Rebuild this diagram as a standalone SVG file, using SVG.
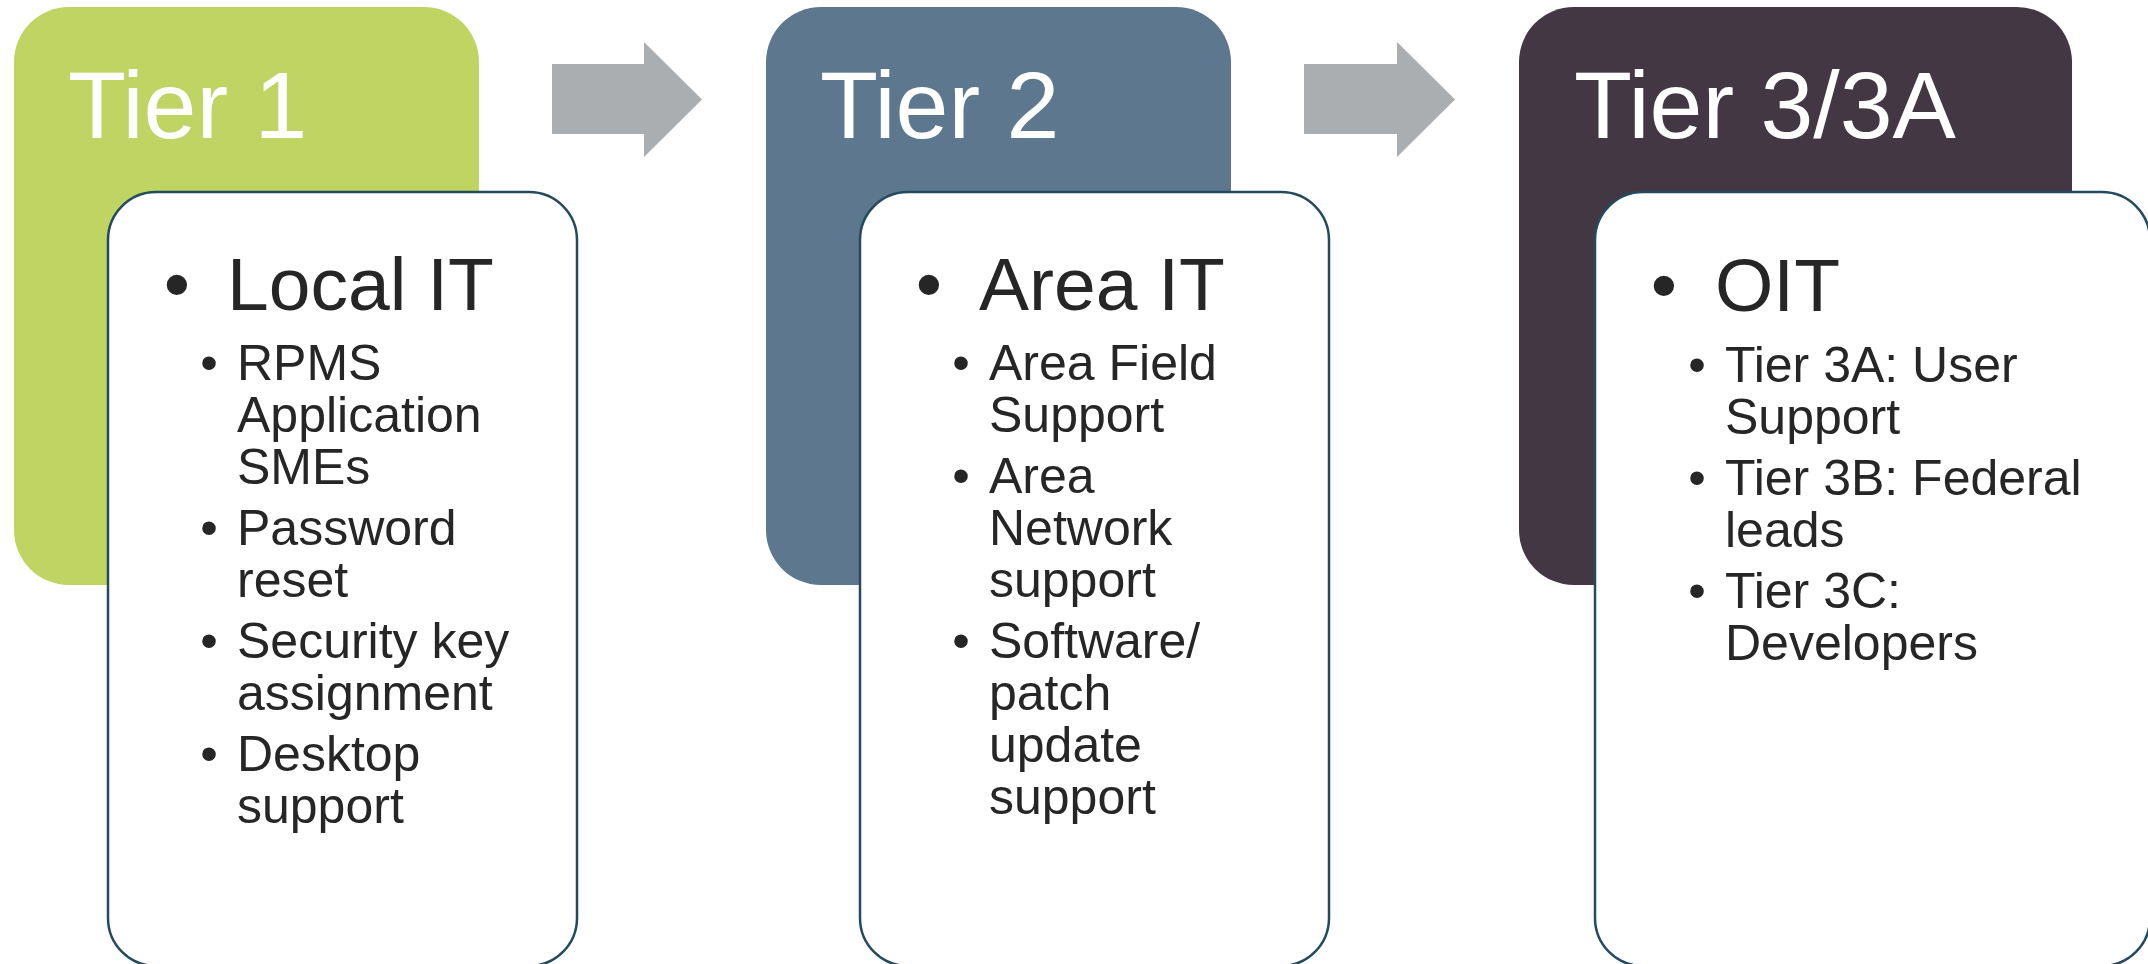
<svg xmlns="http://www.w3.org/2000/svg" width="2148" height="964" viewBox="0 0 2148 964">
  <style>
    text { font-family: "Liberation Sans", Arial, sans-serif; }
    .title { fill: #ffffff; font-size: 95px; }
    .head { fill: #262626; font-size: 75px; }
    .sub { fill: #262626; font-size: 50px; }
    .card { fill: #ffffff; stroke: #234a5f; stroke-width: 2.5; }
    .arrow { fill: #abaeb1; }
  </style>
  <rect width="2148" height="964" fill="#ffffff"/>

  <g id="tier1">
    <rect x="14" y="7" width="465" height="578" rx="55" ry="55" fill="#bfd463"/>
    <text class="title" x="68" y="138">Tier 1</text>
    <rect class="card" x="108" y="192" width="469" height="774" rx="48" ry="48"/>
    <text class="head" x="177" y="310" text-anchor="middle">•</text>
    <text class="head" x="227" y="310">Local IT</text>
    <g class="sub">
      <text x="209" y="380" text-anchor="middle">•</text>
      <text x="237" y="380">RPMS</text>
      <text x="237" y="432">Application</text>
      <text x="237" y="484">SMEs</text>
      <text x="209" y="545" text-anchor="middle">•</text>
      <text x="237" y="545">Password</text>
      <text x="237" y="597">reset</text>
      <text x="209" y="658" text-anchor="middle">•</text>
      <text x="237" y="658">Security key</text>
      <text x="237" y="710">assignment</text>
      <text x="209" y="771" text-anchor="middle">•</text>
      <text x="237" y="771">Desktop</text>
      <text x="237" y="823">support</text>
    </g>
  </g>

  <g id="tier2">
    <rect x="766" y="7" width="465" height="578" rx="55" ry="55" fill="#5d778e"/>
    <text class="title" x="820" y="138">Tier 2</text>
    <rect class="card" x="860" y="192" width="469" height="774" rx="48" ry="48"/>
    <text class="head" x="929" y="310" text-anchor="middle">•</text>
    <text class="head" x="979" y="310">Area IT</text>
    <g class="sub">
      <text x="961" y="380" text-anchor="middle">•</text>
      <text x="989" y="380">Area Field</text>
      <text x="989" y="432">Support</text>
      <text x="961" y="493" text-anchor="middle">•</text>
      <text x="989" y="493">Area</text>
      <text x="989" y="545">Network</text>
      <text x="989" y="597">support</text>
      <text x="961" y="658" text-anchor="middle">•</text>
      <text x="989" y="658">Software/</text>
      <text x="989" y="710">patch</text>
      <text x="989" y="762">update</text>
      <text x="989" y="814">support</text>
    </g>
  </g>

  <g id="tier3">
    <rect x="1519" y="7" width="553" height="578" rx="55" ry="55" fill="#433744"/>
    <text class="title" x="1574" y="138">Tier 3/3A</text>
    <rect class="card" x="1595" y="192" width="555" height="774" rx="48" ry="48"/>
    <text class="head" x="1664" y="311" text-anchor="middle">•</text>
    <text class="head" x="1715" y="311">OIT</text>
    <g class="sub">
      <text x="1697" y="382" text-anchor="middle">•</text>
      <text x="1725" y="382">Tier 3A: User</text>
      <text x="1725" y="434">Support</text>
      <text x="1697" y="495" text-anchor="middle">•</text>
      <text x="1725" y="495">Tier 3B: Federal</text>
      <text x="1725" y="547">leads</text>
      <text x="1697" y="608" text-anchor="middle">•</text>
      <text x="1725" y="608">Tier 3C:</text>
      <text x="1725" y="660">Developers</text>
    </g>
  </g>

  <g id="connectors">
    <polygon class="arrow" points="552,64 644,64 644,42 702,99.5 644,157 644,134 552,134"/>
    <polygon class="arrow" points="1304,64 1397,64 1397,42 1455,99.5 1397,157 1397,134 1304,134"/>
  </g>
</svg>
